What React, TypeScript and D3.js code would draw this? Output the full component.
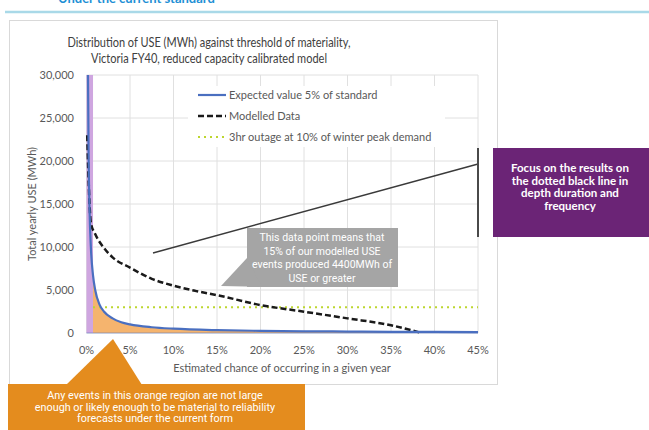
import React from "react";
import * as d3 from "d3";

// ---- data ----
const xTicks = [0, 5, 10, 15, 20, 25, 30, 35, 40, 45];
const yTicks = [0, 5000, 10000, 15000, 20000, 25000, 30000];

const expectedX = [0.17, 0.25, 0.35, 0.5, 0.75, 1, 1.5, 2, 3, 4, 5, 7.5, 10, 15, 20, 25, 30, 35, 40, 45];
const expectedY = [30000, 20000, 14300, 10000, 6700, 5000, 3300, 2500, 1700, 1250, 1000, 670, 500, 330, 250, 200, 170, 140, 125, 110];

const modelledX = [0.08, 0.2, 0.35, 0.5, 1, 2, 3, 5, 7.5, 10, 12.5, 15, 20, 25, 30, 35, 38.5];
const modelledY = [23000, 19000, 15000, 12800, 11500, 9900, 8800, 7600, 6300, 5500, 4900, 4400, 3250, 2480, 1700, 900, 0];

const thresholdX = [0.75, 45];
const thresholdY = [3000, 3000];

const purpleBand = [0, 0.75];

const titleLines = [
  "Distribution of USE (MWh) against threshold of materiality,",
  "Victoria FY40, reduced capacity calibrated model",
];
const titleWidths = [283, 236];
const legendLabels = [
  "Expected value 5% of standard",
  "Modelled Data",
  "3hr outage at 10% of winter peak demand",
];
const grayNote = [
  "This data point means that",
  "15% of our modelled USE",
  "events produced 4400MWh of",
  "USE or greater",
];
const purpleNote = [
  "Focus on the results on",
  "the dotted black line in",
  "depth duration and",
  "frequency",
];
const orangeNote = [
  "Any events in this orange region are not large",
  "enough or likely enough to be material to reliability",
  "forecasts under the current form",
];

export default function App() {
  const W = 649, H = 430;
  const x = d3.scaleLinear().domain([0, 45]).range([86.5, 478]);
  const y = d3.scaleLinear().domain([0, 30000]).range([333, 75]);

  const expected = expectedX.map((v, i) => [v, expectedY[i]] as [number, number]);
  const modelled = modelledX.map((v, i) => [v, modelledY[i]] as [number, number]);
  const threshold = thresholdX.map((v, i) => [v, thresholdY[i]] as [number, number]);

  const line = d3.line<[number, number]>().x(d => x(d[0])).y(d => y(d[1])).curve(d3.curveMonotoneX);
  const straight = d3.line<[number, number]>().x(d => x(d[0])).y(d => y(d[1]));
  const area = d3.area<[number, number]>().x(d => x(d[0])).y0(y(0)).y1(d => y(d[1])).curve(d3.curveMonotoneX);
  const orangePts = expected.filter(d => d[0] >= purpleBand[1]);

  const axisFont = "Lato, 'Open Sans', sans-serif";
  const noteFont = "Roboto, 'Liberation Sans', sans-serif";
  const grey = "#595959";

  return (
    <svg width={W} height={H} style={{ position: "absolute", left: 0, top: 0, background: "#fff" }}>
      <rect x={0} y={0} width={W} height={H} fill="#fff" />
      {/* header */}
      <text x={58} y={3} fontFamily={axisFont} fontSize={13} fontWeight={700} fill="#1e8fd5">Under the current standard</text>
      <line x1={5} x2={W} y1={12} y2={12} stroke="#a9d9e8" strokeWidth={2.5} />

      {/* chart frame */}
      <rect x={9.5} y={20.5} width={488} height={364} fill="#fff" stroke="#d9d9d9" strokeWidth={1} />

      {titleLines.map((t, i) => (
        <text key={i} x={209} y={47 + i * 16} textAnchor="middle" fontFamily={axisFont} fontSize={12.5}
          textLength={titleWidths[i]} lengthAdjust="spacingAndGlyphs" fill="#404040">{t}</text>
      ))}

      {/* gridlines */}
      {yTicks.map(t => (
        <line key={"gy" + t} x1={x(0)} x2={x(45)} y1={y(t)} y2={y(t)} stroke="#e0e0e0" strokeWidth={1} />
      ))}
      {xTicks.map(t => (
        <line key={"gx" + t} x1={x(t)} x2={x(t)} y1={y(30000)} y2={y(0)} stroke="#e0e0e0" strokeWidth={1} />
      ))}

      {/* regions */}
      <rect x={x(purpleBand[0])} y={y(30000)} width={x(purpleBand[1]) - x(purpleBand[0])} height={y(0) - y(30000)} fill="#cfa6e0" />
      <path d={area(orangePts) || ""} fill="#f5b46e" />

      {/* series */}
      <path d={straight(threshold) || ""} fill="none" stroke="#bdd62e" strokeWidth={2} strokeDasharray="2,4" />
      <path d={line(modelled) || ""} fill="none" stroke="#1a1a1a" strokeWidth={2.5} strokeDasharray="6,3" />
      <path d={line(expected) || ""} fill="none" stroke="#4a6fc0" strokeWidth={2.2} />
      <line x1={x(0)} x2={x(45)} y1={y(0)} y2={y(0)} stroke="#4a6fc0" strokeWidth={1} opacity={0.5} />

      {/* axes labels */}
      {yTicks.map(t => (
        <text key={"ty" + t} x={74} y={y(t) + 4} textAnchor="end" fontFamily={axisFont} fontSize={11} fill={grey}>{d3.format(",")(t)}</text>
      ))}
      {xTicks.map(t => (
        <text key={"tx" + t} x={x(t)} y={354} textAnchor="middle" fontFamily={axisFont} fontSize={11} fill={grey}>{t + "%"}</text>
      ))}
      <text x={282} y={372} textAnchor="middle" fontFamily={axisFont} fontSize={11} fill={grey}>Estimated chance of occurring in a given year</text>
      <text transform={`translate(36,${y(15000)}) rotate(-90)`} textAnchor="middle" fontFamily={axisFont} fontSize={11} fill={grey}>Total yearly USE (MWh)</text>

      {/* legend */}
      <rect x={188} y={86} width={257} height={61} fill="#fff" />
      <line x1={198} x2={226} y1={95} y2={95} stroke="#4a6fc0" strokeWidth={2.2} />
      <line x1={198} x2={226} y1={116} y2={116} stroke="#1a1a1a" strokeWidth={2.5} strokeDasharray="6,3" />
      <line x1={198} x2={226} y1={137} y2={137} stroke="#bdd62e" strokeWidth={2} strokeDasharray="2,4" />
      {legendLabels.map((t, i) => (
        <text key={"lg" + i} x={229} y={99 + i * 21} fontFamily={axisFont} fontSize={11} fill={grey}>{t}</text>
      ))}

      {/* connector line */}
      <polyline points="153,253 478,164" fill="none" stroke="#3a3a3a" strokeWidth={1.4} />
      <line x1={478} x2={478} y1={148} y2={237} stroke="#4a4a4a" strokeWidth={2} />

      {/* gray callout */}
      <path d="M247,228 H398 V287 H247 V262 Z" fill="#a5a5a5" />
      <path d="M247,258 L221,286 L262,287 Z" fill="#a5a5a5" />
      {grayNote.map((t, i) => (
        <text key={"gn" + i} x={322} y={241 + i * 13.5} textAnchor="middle" fontFamily={noteFont} fontSize={10.5} fill="#fff">{t}</text>
      ))}

      {/* purple note */}
      <rect x={493} y={148} width={156} height={89} fill="#6b2476" />
      {purpleNote.map((t, i) => (
        <text key={"pn" + i} x={570} y={172 + i * 12.7} textAnchor="middle" fontFamily={axisFont} fontSize={11.5} fontWeight={700} fill="#fff">{t}</text>
      ))}

      {/* orange note */}
      <path d="M113,339 L142,385 L66,385 Z" fill="#e48c1e" />
      <rect x={8} y={384} width={297} height={46} fill="#e48c1e" />
      {orangeNote.map((t, i) => (
        <text key={"on" + i} x={155} y={399 + i * 11.7} textAnchor="middle" fontFamily={noteFont} fontSize={10.8} fill="#fff">{t}</text>
      ))}
    </svg>
  );
}
